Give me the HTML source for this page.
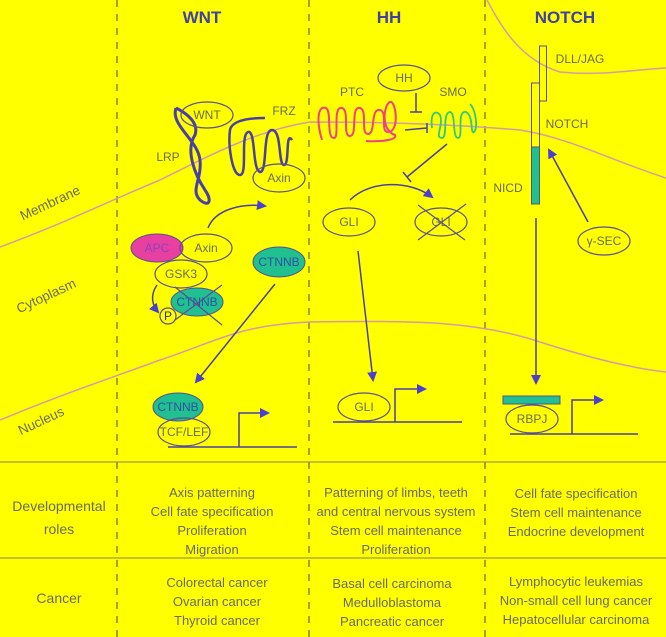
<!DOCTYPE html>
<html><head><meta charset="utf-8"><style>
html,body{margin:0;padding:0;background:#ffff00;}
svg{display:block;font-family:"Liberation Sans",sans-serif;}
.t{fill:#6a6a5a;font-size:13px;text-anchor:middle;}
.l{fill:#6a6a5a;font-size:12px;text-anchor:middle;}
.s{fill:#6a6a5a;font-size:13.5px;text-anchor:middle;}
.h{fill:#4040a8;font-size:17px;font-weight:bold;text-anchor:middle;}
.ln{stroke:#4a3fa8;stroke-width:1.5;fill:none;}
.el{fill:none;stroke:#5a4f90;stroke-width:1.2;}
</style></head><body>
<svg width="666" height="637" viewBox="0 0 666 637">
<defs><marker id="ar" markerWidth="10" markerHeight="10" refX="8" refY="5" orient="auto" markerUnits="userSpaceOnUse"><path d="M0,0 L10,5 L0,10 z" fill="#4a3fd0"/></marker></defs>
<rect width="666" height="637" fill="#ffff00"/>
<g stroke="#4a4a40" stroke-width="1" stroke-dasharray="7,7">
<line x1="117" y1="0" x2="117" y2="637"/><line x1="309" y1="0" x2="309" y2="637"/><line x1="485" y1="0" x2="485" y2="637"/></g>
<g stroke="#8a8060" stroke-width="1"><line x1="0" y1="462" x2="666" y2="462"/><line x1="0" y1="558" x2="666" y2="558"/></g>
<g stroke="#d89aa8" stroke-width="1.5" fill="none">
<path d="M0,247 C60,225 100,205 160,180 C220,150 260,130 310,122 C400,122 460,125 520,130 C570,138 610,160 666,178"/>
<path d="M0,420 C60,395 100,382 160,360 C220,340 240,325 310,322 C420,320 480,322 540,342 C590,358 630,368 666,372"/>
<path d="M487,0 C500,25 520,60 560,72 C600,76 630,70 666,68"/>
</g>
<text class="h" x="202" y="23">WNT</text>
<text class="h" x="389" y="23">HH</text>
<text class="h" x="565" y="23">NOTCH</text>
<text class="s" transform="translate(52,207) rotate(-25)">Membrane</text>
<text class="s" transform="translate(48,300) rotate(-25)">Cytoplasm</text>
<text class="s" transform="translate(43,425) rotate(-25)">Nucleus</text>
<!-- WNT -->
<path d="M176,108 C170,125 198,140 200,160 C202,180 190,190 200,200 C210,208 212,200 205,190 C195,175 185,150 195,135 C200,120 180,110 176,108" stroke="#4a3fa8" stroke-width="3" fill="none"/>
<path d="M265,118 C250,118 232,120 230,130 C228,145 232,175 240,175 C248,175 240,135 248,132 C256,130 252,170 260,172 C268,172 262,130 272,130 C282,130 278,165 284,165 C290,165 285,130 292,140" stroke="#4a3fa8" stroke-width="2.5" fill="none"/>
<ellipse class="el" cx="207" cy="115" rx="26" ry="13"/><text class="l" x="207" y="119">WNT</text>
<text class="l" x="284" y="115">FRZ</text>
<text class="l" x="168" y="161">LRP</text>
<ellipse class="el" cx="279" cy="178" rx="26" ry="14"/><text class="l" x="279" y="182">Axin</text>
<path class="ln" d="M208,228 C215,210 240,203 265,206" marker-end="url(#ar)"/>
<ellipse cx="157" cy="248" rx="26" ry="14" fill="#e840a0" stroke="#5a4f90"/><text class="l" x="157" y="252" style="fill:#9040c0">APC</text>
<ellipse class="el" cx="206" cy="248" rx="26" ry="14"/><text class="l" x="206" y="252">Axin</text>
<ellipse class="el" cx="181" cy="274" rx="26" ry="14"/><text class="l" x="181" y="278">GSK3</text>
<ellipse cx="197" cy="302" rx="26" ry="14" fill="#20c090" stroke="#5a4f90"/><text class="l" x="197" y="306" style="fill:#3050a0">CTNNB</text>
<g stroke="#5a4f90" stroke-width="1.2"><line x1="175" y1="287" x2="222" y2="325"/><line x1="175" y1="320" x2="222" y2="285"/></g>
<circle class="el" cx="168" cy="316" r="8"/><text class="l" x="168" y="320" style="fill:#333">P</text>
<path class="ln" d="M157,285 C150,295 152,305 158,312" marker-end="url(#ar)"/>
<ellipse cx="279" cy="262" rx="26" ry="15" fill="#20c090" stroke="#5a4f90"/><text class="l" x="279" y="266" style="fill:#3050a0">CTNNB</text>
<line class="ln" x1="275" y1="284" x2="196" y2="382" marker-end="url(#ar)"/>
<ellipse cx="178" cy="407" rx="25" ry="14" fill="#20c090" stroke="#5a4f90"/><text class="l" x="178" y="411" style="fill:#3050a0">CTNNB</text>
<ellipse class="el" cx="184" cy="432" rx="26" ry="14"/><text class="l" x="184" y="436">TCF/LEF</text>
<path class="ln" d="M168,447 L297,447 M239,447 L239,413 L268,413" marker-end="url(#ar)"/>
<!-- HH -->
<ellipse class="el" cx="404" cy="78" rx="26" ry="13"/><text class="l" x="404" y="82">HH</text>
<text class="l" x="352" y="96">PTC</text>
<text class="l" x="453" y="96">SMO</text>
<path d="M322,140 C316,120 318,105 326,108 C332,112 326,138 334,138 C340,138 332,106 342,108 C350,110 342,136 350,136 C358,136 350,106 360,108 C368,110 360,134 368,134 C376,134 370,108 380,110 C388,112 380,132 388,132 C400,132 396,100 390,102 C384,104 380,130 395,135 C398,140 380,142 366,141" stroke="#f0408a" stroke-width="2" fill="none"/>
<path d="M432,128 C430,112 436,110 440,115 C444,125 434,138 442,138 C448,138 442,112 450,112 C456,112 452,138 458,138 C464,138 456,110 466,112 C474,116 470,135 474,132 C478,128 476,110 470,104" stroke="#30c880" stroke-width="1.8" fill="none"/>
<path class="ln" d="M416,93 L416,112 M410,112 L422,112"/>
<path class="ln" d="M405,130 L427,128 M427,123 L427,133"/>
<path class="ln" d="M447,144 L407,177 M403,172 L411,182"/>
<ellipse class="el" cx="349" cy="222" rx="26" ry="14"/><text class="l" x="349" y="226">GLI</text>
<ellipse class="el" cx="441" cy="222" rx="26" ry="14"/><text class="l" x="441" y="226">GLI</text>
<g stroke="#5a4f90" stroke-width="1.2"><line x1="418" y1="205" x2="465" y2="240"/><line x1="418" y1="240" x2="466" y2="204"/></g>
<path class="ln" d="M350,200 C370,180 410,180 432,197" marker-end="url(#ar)"/>
<line class="ln" x1="358" y1="251" x2="373" y2="380" marker-end="url(#ar)"/>
<ellipse class="el" cx="364" cy="407" rx="26" ry="14"/><text class="l" x="364" y="411">GLI</text>
<path class="ln" d="M333,422 L462,422 M395,422 L395,389 L425,389" marker-end="url(#ar)"/>
<!-- NOTCH -->
<rect x="539.5" y="46" width="7" height="55" fill="none" stroke="#5a4f90"/>
<rect x="531.5" y="83" width="8" height="64" fill="none" stroke="#5a4f90"/>
<rect x="531.5" y="147" width="8" height="57" fill="#20c090" stroke="#5a4f90"/>
<text class="l" x="580" y="63">DLL/JAG</text>
<text class="l" x="567" y="128">NOTCH</text>
<text class="l" x="508" y="192">NICD</text>
<ellipse class="el" cx="604" cy="241" rx="26" ry="14"/><text class="l" x="604" y="245">γ-SEC</text>
<line class="ln" x1="588" y1="222" x2="549" y2="150" marker-end="url(#ar)"/>
<line class="ln" x1="536" y1="218" x2="536" y2="383" marker-end="url(#ar)"/>
<rect x="503" y="396" width="57" height="8" fill="#20c090" stroke="#5a4f90"/>
<ellipse class="el" cx="532" cy="419" rx="26" ry="14"/><text class="l" x="532" y="423">RBPJ</text>
<path class="ln" d="M510,434 L638,434 M572,434 L572,400 L602,400" marker-end="url(#ar)"/>
<!-- table -->
<text class="t" x="59" y="511" style="font-size:14px">Developmental</text>
<text class="t" x="59" y="534" style="font-size:14px">roles</text>
<text class="t" x="59" y="603" style="font-size:14px">Cancer</text>
<g><text class="t" x="212" y="497">Axis patterning</text><text class="t" x="212" y="516">Cell fate specification</text><text class="t" x="212" y="535">Proliferation</text><text class="t" x="212" y="554">Migration</text></g>
<g><text class="t" x="396" y="497">Patterning of limbs, teeth</text><text class="t" x="396" y="516">and central nervous system</text><text class="t" x="396" y="535">Stem cell maintenance</text><text class="t" x="396" y="554">Proliferation</text></g>
<g><text class="t" x="576" y="498">Cell fate specification</text><text class="t" x="576" y="517">Stem cell maintenance</text><text class="t" x="576" y="536">Endocrine development</text></g>
<g><text class="t" x="217" y="587">Colorectal cancer</text><text class="t" x="217" y="606">Ovarian cancer</text><text class="t" x="217" y="625">Thyroid cancer</text></g>
<g><text class="t" x="392" y="588">Basal cell carcinoma</text><text class="t" x="392" y="607">Medulloblastoma</text><text class="t" x="392" y="626">Pancreatic cancer</text></g>
<g><text class="t" x="576" y="586">Lymphocytic leukemias</text><text class="t" x="576" y="605">Non-small cell lung cancer</text><text class="t" x="576" y="624">Hepatocellular carcinoma</text></g>
</svg>
</body></html>
